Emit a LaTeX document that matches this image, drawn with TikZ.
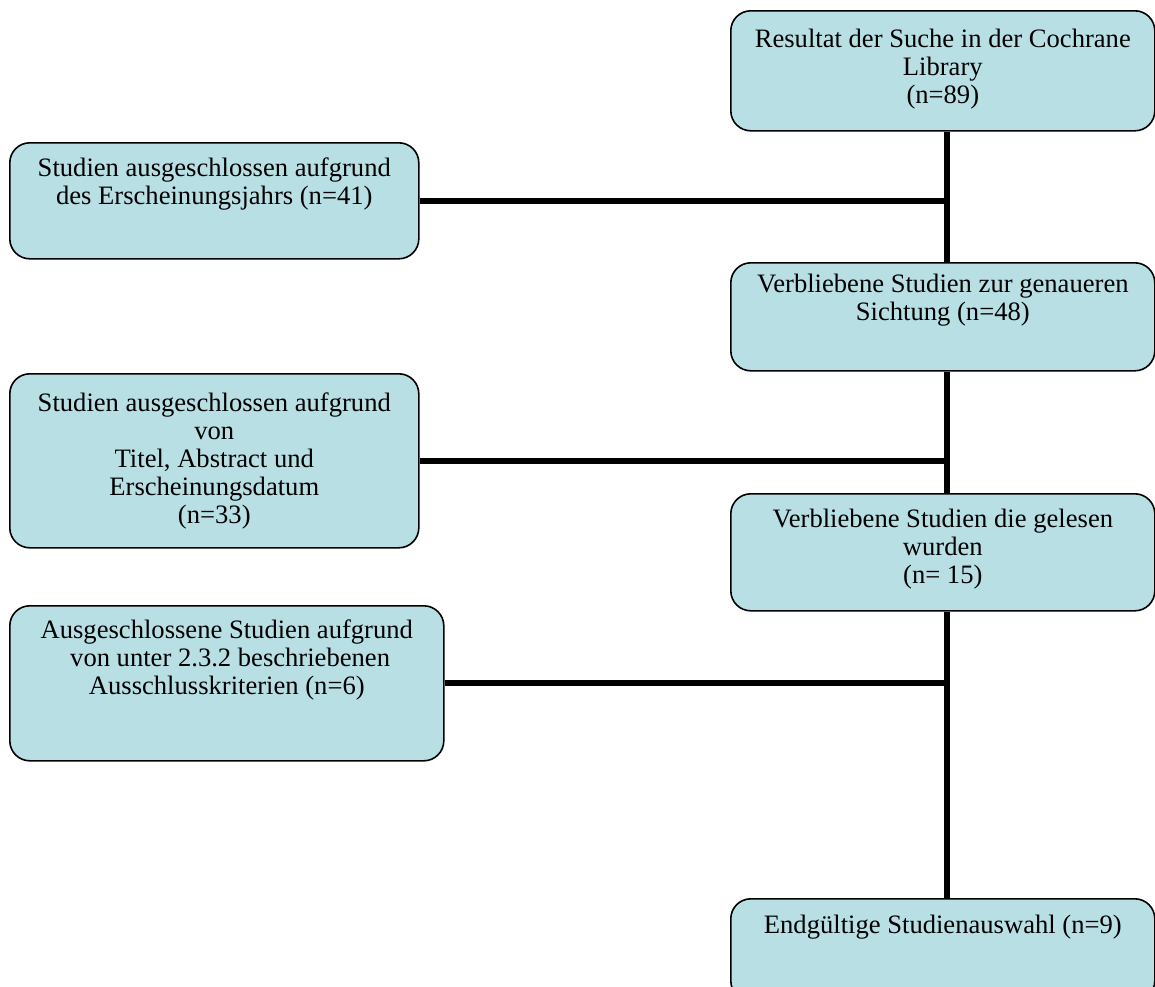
\documentclass[tikz,border=0pt]{standalone}
\usepackage{fontspec}
\setmainfont{Liberation Serif}
\usetikzlibrary{positioning}
\definecolor{boxblue}{RGB}{184,223,227}

\begin{document}
\begin{tikzpicture}[x=0.5pt,y=-0.5pt]
	\tikzstyle{box}=[draw,fill=boxblue,rounded corners=10pt,line width=0.8pt,anchor=north west,inner sep=0pt]
	\tikzstyle{txt}=[align=center,inner sep=0pt,font=\fontsize{13.3pt}{14pt}\selectfont]
	\tikzstyle{line}=[line width=3pt]
	\useasboundingbox (0,0) rectangle (1155,986);

	% boxes on the right
	\node[box,minimum width=212pt,minimum height=60pt] (res) at (730,10) {};
	\node[box,minimum width=212pt,minimum height=54pt] (sicht) at (730,262) {};
	\node[box,minimum width=212pt,minimum height=58.5pt] (gelesen) at (730,493) {};
	\node[box,minimum width=212pt,minimum height=51pt] (final) at (730,898) {};

	% boxes on the left
	\node[box,minimum width=204.5pt,minimum height=58pt] (jahr) at (9,142) {};
	\node[box,minimum width=204.5pt,minimum height=87pt] (titel) at (9,373) {};
	\node[box,minimum width=217pt,minimum height=77.5pt] (kriter) at (9,605) {};

	% texts
	\node[txt,below=9.5pt of res.north] (resT) {Resultat der Suche in der Cochrane\\Library\\(n=89)};
	\node[txt,below=6pt of sicht.north] (sichtT) {Verbliebene Studien zur genaueren\\Sichtung (n=48)};
	\node[txt,below=8pt of gelesen.north] (gelesenT) {Verbliebene Studien die gelesen\\wurden\\(n= 15)};
	\node[txt,below=8.5pt of final.north] (finalT) {Endgültige Studienauswahl (n=9)};
	\node[txt,below=7.5pt of jahr.north] (jahrT) {Studien ausgeschlossen aufgrund\\des Erscheinungsjahrs (n=41)};
	\node[txt,below=9.5pt of titel.north] (titelT) {Studien ausgeschlossen aufgrund\\von\\Titel, Abstract und\\Erscheinungsdatum\\(n=33)};
	\node[txt,below=7pt of kriter.north] (kriterT) {Ausgeschlossene Studien aufgrund\\\ von unter 2.3.2 beschriebenen\\Ausschlusskriterien (n=6)};

	% connectors
	\coordinate (trunk) at ([xshift=2pt]res.south);
	\draw[line] (trunk) -- (sicht.north -| trunk);
	\draw[line] (sicht.south -| trunk) -- (gelesen.north -| trunk);
	\draw[line] (gelesen.south -| trunk) -- (final.north -| trunk);
	\draw[line] (jahr.east) -- (jahr.east -| trunk);
	\draw[line] (titel.east) -- (titel.east -| trunk);
	\draw[line] (kriter.east) -- (kriter.east -| trunk);
\end{tikzpicture}
\end{document}
